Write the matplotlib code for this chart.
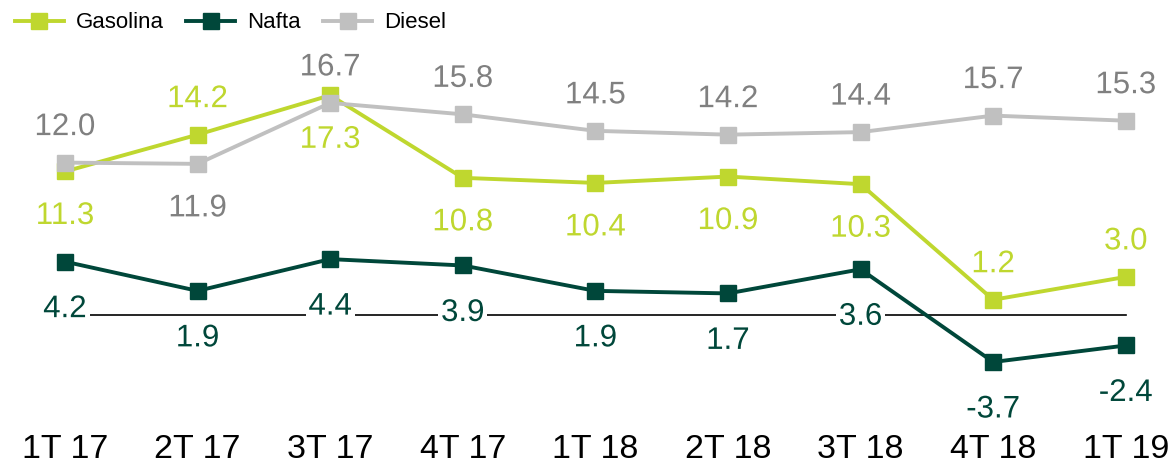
import matplotlib
matplotlib.use("Agg")
import matplotlib.pyplot as plt
import matplotlib.patheffects as pe

categories = ["1T 17", "2T 17", "3T 17", "4T 17", "1T 18", "2T 18", "3T 18", "4T 18", "1T 19"]
gasolina = [11.3, 14.2, 17.3, 10.8, 10.4, 10.9, 10.3, 1.2, 3.0]
nafta = [4.2, 1.9, 4.4, 3.9, 1.9, 1.7, 3.6, -3.7, -2.4]
diesel = [12.0, 11.9, 16.7, 15.8, 14.5, 14.2, 14.4, 15.7, 15.3]

# label placement: +1 above, -1 below
gas_pos = [-1, 1, -1, -1, -1, -1, -1, 1, 1]
naf_pos = [-1, -1, -1, -1, -1, -1, -1, -1, -1]
die_pos = [1, -1, 1, 1, 1, 1, 1, 1, 1]

c_gas = "#BFD72F"
c_naf = "#00473A"
c_die = "#C0C0C0"
c_die_txt = "#808080"

plt.rcParams['font.family'] = ['Liberation Sans', 'DejaVu Sans']

fig = plt.figure(figsize=(11.75, 4.75), dpi=100)
ax = fig.add_axes([0, 55 / 475, 1, 420 / 475])

px_per_cat = 132.6
ax.set_xlim(-65 / px_per_cat, (1175 - 65) / px_per_cat)
ppu = 12.7
ax.set_ylim(-(420 - 315) / ppu, 315 / ppu)

x = list(range(len(categories)))
ax.plot([x[0], x[-1]], [0, 0], color="black", lw=1.2, zorder=1)

series = [
    ("Gasolina", gasolina, c_gas, c_gas, gas_pos),
    ("Nafta", nafta, c_naf, c_naf, naf_pos),
    ("Diesel", diesel, c_die, c_die_txt, die_pos),
]
off_up = 39 / ppu
for name, vals, col, tcol, pos in series:
    off_dn = (44 if name == "Nafta" else 41) / ppu
    ax.plot(x, vals, color=col, lw=2.8, marker="s", markersize=11.5,
            label=name, zorder=4)
    for xi, v, p in zip(x, vals, pos):
        off = off_up if p > 0 else off_dn
        ly = v + p * off
        kw = {}
        if 0 < ly < 15 / ppu:
            kw["bbox"] = dict(facecolor="white", edgecolor="none", pad=2)
        ax.text(xi, ly, f"{v:.1f}", color=tcol, fontsize=22.5,
                ha="center", va="center_baseline", zorder=3,
                path_effects=[pe.withStroke(linewidth=5, foreground="white")],
                **kw)

ax.set_xticks(x)
ax.set_xticklabels(categories, fontsize=24.5)
ax.tick_params(axis="x", length=0, pad=10)
ax.set_yticks([])
for s in ax.spines.values():
    s.set_visible(False)

handles, labels = ax.get_legend_handles_labels()
leg = fig.legend(handles, labels, loc="center left",
                 bbox_to_anchor=(15 / 1175, 1 - 23 / 475),
                 ncol=3, frameon=False, handlelength=2.2,
                 columnspacing=1.0, handletextpad=0.55, borderpad=0,
                 borderaxespad=0, markerscale=0.95,
                 prop={"size": 16})

fig.savefig("out.png", dpi=100)
